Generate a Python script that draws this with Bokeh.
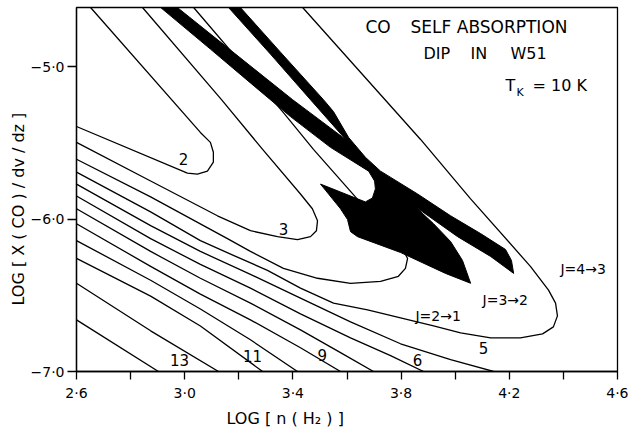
from bokeh.plotting import figure
from bokeh.models import Label, FixedTicker, CustomJSTickFormatter, Range1d, ColumnDataSource, Title
from bokeh.core.properties import value
from bokeh.embed import file_html
from bokeh.resources import INLINE

FONT = "DejaVu Sans"

# ---------------- axes ----------------
x_ticks = [2.6, 2.8, 3.0, 3.2, 3.4, 3.6, 3.8, 4.0, 4.2, 4.4, 4.6]
x_tick_labels = ["2·6", "", "3·0", "", "3·4", "", "3·8", "", "4·2", "", "4·6"]
y_ticks = [-7.0, -6.0, -5.0]
y_tick_labels = ["−7·0", "−6·0", "−5·0"]

x_title = "LOG  [ n ( H₂ ) ]"
y_title = "LOG [ X ( CO ) / dv / dz ]"

# ---------------- contour lines (log n(H2), log X(CO)/dv/dz) ----------------
c2_x = [2.652, 3.058, 3.095, 3.106, 3.106, 3.084, 3.047, 3.010, 2.600]
c2_y = [-4.611, -5.431, -5.496, -5.561, -5.626, -5.685, -5.705, -5.698, -5.392]

c3_x = [2.844, 3.136, 3.288, 3.428, 3.472, 3.491, 3.487, 3.465, 3.417, 3.343, 3.243, 3.121, 2.874, 2.600]
c3_y = [-4.611, -5.216, -5.542, -5.835, -5.932, -6.010, -6.076, -6.115, -6.134, -6.115, -6.076, -5.978, -5.750, -5.496]

c4_x = [3.033, 3.365, 3.476, 3.631, 3.742, 3.805, 3.824, 3.816, 3.790, 3.724, 3.613, 3.491, 3.365, 3.243, 3.158, 2.874, 2.600]
c4_y = [-4.611, -5.301, -5.542, -5.854, -6.076, -6.193, -6.258, -6.323, -6.375, -6.408, -6.421, -6.388, -6.323, -6.212, -6.128, -5.854, -5.607]

c5_x = [3.436, 3.872, 4.057, 4.278, 4.345, 4.371, 4.378, 4.363, 4.323, 4.241, 4.131, 4.020, 3.920, 3.798, 3.676, 3.550, 3.428, 3.306, 3.180, 3.058, 2.874, 2.600]
c5_y = [-4.611, -5.477, -5.867, -6.310, -6.466, -6.551, -6.635, -6.707, -6.753, -6.779, -6.779, -6.746, -6.701, -6.648, -6.596, -6.551, -6.453, -6.336, -6.238, -6.141, -5.952, -5.691]

c6_x = [2.600, 2.874, 3.058, 3.243, 3.428, 3.613, 3.798, 3.983, 4.142]
c6_y = [-5.770, -6.043, -6.212, -6.362, -6.518, -6.674, -6.818, -6.922, -7.000]

c7_x = [2.600, 2.874, 3.058, 3.243, 3.428, 3.613, 3.761, 3.883]
c7_y = [-5.848, -6.128, -6.297, -6.453, -6.622, -6.779, -6.896, -7.000]

c8_x = [2.600, 2.874, 3.058, 3.243, 3.428, 3.576, 3.698]
c8_y = [-5.932, -6.212, -6.388, -6.551, -6.727, -6.876, -7.000]

c9_x = [2.600, 2.874, 3.058, 3.243, 3.428, 3.576]
c9_y = [-6.030, -6.310, -6.492, -6.661, -6.844, -7.000]

c10_x = [2.600, 2.874, 3.058, 3.243, 3.417]
c10_y = [-6.141, -6.401, -6.590, -6.792, -7.000]

c11_x = [2.600, 2.874, 3.058, 3.288]
c11_y = [-6.258, -6.505, -6.701, -7.000]

c12_x = [2.600, 2.874, 3.125]
c12_y = [-6.421, -6.733, -7.000]

c13_x = [2.600, 2.903]
c13_y = [-6.661, -7.000]

# ---------------- observed self-absorption region (black) ----------------
dip_x = [2.911, 2.973, 3.188, 3.399, 3.595, 3.465, 3.317, 3.162, 3.206, 3.354, 3.513, 3.550,
         3.606, 3.668, 3.724, 3.861, 3.983, 4.094, 4.186, 4.208, 4.216, 4.131, 4.009, 3.853,
         3.920, 3.983, 4.027, 4.057, 3.964, 3.798, 3.639, 3.613, 3.602, 3.576, 3.502, 3.576,
         3.639, 3.668, 3.694, 3.705, 3.702, 3.680, 3.539, 3.391, 3.243, 3.095]
dip_y = [-4.611, -4.611, -4.917, -5.216, -5.477, -5.216, -4.917, -4.611, -4.611, -4.904, -5.216, -5.294,
         -5.464, -5.594, -5.685, -5.835, -5.978, -6.095, -6.199, -6.271, -6.356, -6.245, -6.115, -5.919,
         -6.030, -6.147, -6.271, -6.421, -6.356, -6.219, -6.115, -6.082, -6.003, -5.932, -5.770, -5.822,
         -5.867, -5.887, -5.861, -5.802, -5.750, -5.685, -5.529, -5.327, -5.106, -4.884]

contour_labels = ["2", "3", "13", "11", "9", "6", "5"]
transition_labels = ["J=2→1", "J=3→2", "J=4→3"]
title_words = ["CO", "SELF ABSORPTION", "DIP", "IN", "W51"]
tk_parts = ["T", "K", "= 10 K"]

# ---------------- figure ----------------
p = figure(width=628, height=430, output_backend="svg", toolbar_location=None,
           x_range=Range1d(2.6, 4.6), y_range=Range1d(-7.0, -4.611),
           min_border_left=76, min_border_right=11, min_border_top=7, min_border_bottom=56)
p.grid.visible = False
p.outline_line_color = "black"
p.outline_line_width = 1.3
p.background_fill_color = "white"
p.border_fill_color = "white"

fmt_code = ("for (let i = 0; i < vals.length; i++) {"
            " if (Math.abs(vals[i] - tick) < 1e-6) return labs[i]; }"
            " return '';")

xa = p.xaxis[0]
xa.ticker = FixedTicker(ticks=x_ticks)
xa.formatter = CustomJSTickFormatter(args=dict(vals=x_ticks, labs=x_tick_labels), code=fmt_code)
xa.major_tick_out = 8
xa.major_tick_in = 0
xa.minor_tick_out = 0
xa.minor_tick_in = 0
xa.major_label_standoff = 5
xa.major_label_text_font = FONT
xa.major_label_text_font_size = "14px"
xa.major_label_text_color = "black"
xa.axis_line_width = 1.3
xa.major_tick_line_width = 1.3

ya = p.yaxis[0]
ya.ticker = FixedTicker(ticks=y_ticks)
ya.formatter = CustomJSTickFormatter(args=dict(vals=y_ticks, labs=y_tick_labels), code=fmt_code)
ya.major_tick_out = 9
ya.major_tick_in = 0
ya.minor_tick_out = 0
ya.minor_tick_in = 0
ya.major_label_standoff = 3
ya.major_label_text_font = FONT
ya.major_label_text_font_size = "14px"
ya.major_label_text_color = "black"
ya.axis_line_width = 1.3
ya.major_tick_line_width = 1.3

# axis titles as side titles (allows offset positioning like the reference)
p.add_layout(Title(text=x_title, align="left", offset=150, standoff=6,
                   text_font=FONT, text_font_size="16px", text_font_style="normal",
                   text_color="black"), "below")
p.add_layout(Title(text=y_title, align="left", offset=66, standoff=0,
                   text_font=FONT, text_font_size="16px", text_font_style="normal",
                   text_color="black"), "left")

# contour lines
for xs, ys in [(c2_x, c2_y), (c3_x, c3_y), (c4_x, c4_y), (c5_x, c5_y), (c6_x, c6_y),
               (c7_x, c7_y), (c8_x, c8_y), (c9_x, c9_y), (c10_x, c10_y), (c11_x, c11_y),
               (c12_x, c12_y), (c13_x, c13_y)]:
    p.line(xs, ys, line_color="black", line_width=1.3, line_join="round")

# black region
p.patch(dip_x, dip_y, fill_color="black", line_color="black", line_width=1)

# contour value labels
src = ColumnDataSource(dict(
    x=[2.996, 3.365, 2.981, 3.251, 3.509, 3.861, 4.105],
    y=[-5.607, -6.063, -6.922, -6.896, -6.889, -6.922, -6.844],
    t=contour_labels))
p.text(x="x", y="y", text="t", source=src, text_font=value(FONT), text_font_size=value("15px"),
       text_align="center", text_baseline="middle", text_color="black")

def lab(x, y, t, size, align="left"):
    p.add_layout(Label(x=x, y=y, text=t, text_font=FONT, text_font_size=size,
                       text_align=align, text_baseline="middle", text_color="black"))

# transition labels
lab(3.853, -6.635, transition_labels[0], "14px")
lab(4.101, -6.531, transition_labels[1], "14px")
lab(4.389, -6.329, transition_labels[2], "14px")

# title block
lab(3.668, -4.741, title_words[0], "17px")
lab(3.835, -4.741, title_words[1], "17px")
lab(3.883, -4.910, title_words[2], "16px")
lab(4.057, -4.910, title_words[3], "16px")
lab(4.204, -4.910, title_words[4], "16px")
lab(4.186, -5.125, tk_parts[0], "16px")
lab(4.227, -5.171, tk_parts[1], "11px")
lab(4.286, -5.125, tk_parts[2], "16px")

open("out.html", "w").write(file_html(p, INLINE))
